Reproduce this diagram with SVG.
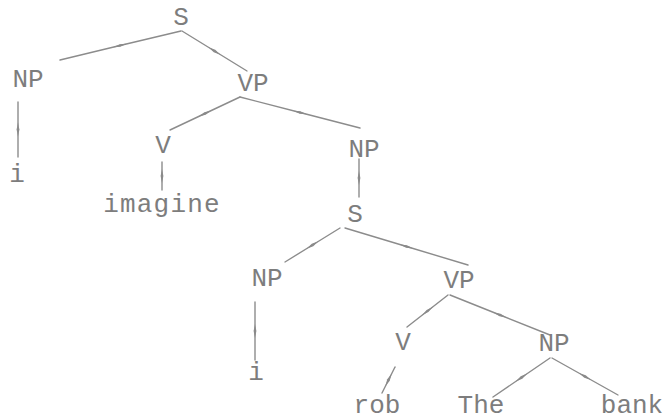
<svg xmlns="http://www.w3.org/2000/svg" width="665" height="420" viewBox="0 0 665 420">
<defs>
<style>
.n text{font-family:"Liberation Mono","DejaVu Sans Mono",monospace;font-size:26px;fill:#7d7d7d;text-anchor:middle}
.c path{fill:none;stroke:#8c8c8c;stroke-width:1.4;stroke-linecap:round;marker-mid:url(#m)}
</style>
<marker id="m" markerUnits="userSpaceOnUse" markerWidth="20" markerHeight="8" refX="0" refY="0" viewBox="-10 -4 20 8" orient="auto">
<path d="M-7,0 L0,-1.4 L7,0 L0,1.4 Z" fill="#8a8a8a"/>
</marker>
</defs>
<rect width="665" height="420" fill="#fff"/>
<g class="c" id="connectors">
<path d="M181,31 L120,45.5 L60,60"/>
<path d="M182,31 L214.5,51 L247,71"/>
<path d="M18,102 L18,129.5 L18,157"/>
<path d="M240,97 L205,113.5 L170,130"/>
<path d="M240,97 L300,112.5 L360,128"/>
<path d="M162,162 L162,176 L162,190"/>
<path d="M359,159 L359,178 L359,197"/>
<path d="M340,228 L312.5,245 L285,262"/>
<path d="M345,228 L406.5,246.5 L468,265"/>
<path d="M255,302 L255,331 L255,360"/>
<path d="M448,295 L427.5,311 L407,327"/>
<path d="M450,295 L500,315 L550,335"/>
<path d="M395,367 L388.5,380 L382,393"/>
<path d="M550,358 L521.5,377.5 L493,397"/>
<path d="M552,358 L585,376.5 L618,395"/>
</g>
<g class="n" id="S1"><text x="181" y="25">S</text></g>
<g class="n" id="NP1"><text x="28" y="87">NP</text></g>
<g class="n" id="VP1"><text x="253" y="91">VP</text></g>
<g class="n" id="i1"><text x="17" y="182">i</text></g>
<g class="n" id="V1"><text x="163" y="153">V</text></g>
<g class="n" id="imagine"><text x="162" y="212" letter-spacing="1.2">imagine</text></g>
<g class="n" id="NP2"><text x="364" y="157">NP</text></g>
<g class="n" id="S2"><text x="355" y="222">S</text></g>
<g class="n" id="NP3"><text x="267" y="286">NP</text></g>
<g class="n" id="VP3"><text x="459" y="288">VP</text></g>
<g class="n" id="i3"><text x="256" y="380">i</text></g>
<g class="n" id="V3"><text x="403" y="350">V</text></g>
<g class="n" id="NP4"><text x="554" y="351">NP</text></g>
<g class="n" id="rob"><text x="377" y="413">rob</text></g>
<g class="n" id="The"><text x="481" y="413">The</text></g>
<g class="n" id="bank"><text x="632" y="413">bank</text></g>
</svg>
